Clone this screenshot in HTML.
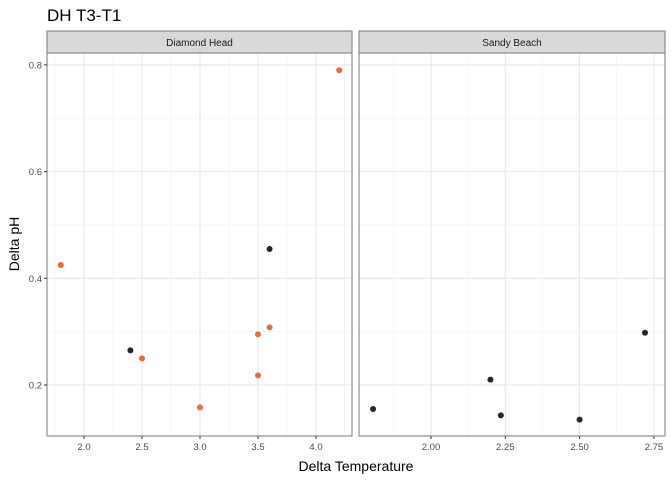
<!DOCTYPE html>
<html><head><meta charset="utf-8"><style>
body{margin:0;background:#fff;font-family:"Liberation Sans",Arial,sans-serif}
</style></head><body>
<svg id="c" width="672" height="480" xmlns="http://www.w3.org/2000/svg">
<text x="47" y="21" font-size="17" fill="#000">DH T3-T1</text>
<text x="356" y="471" font-size="14" text-anchor="middle" fill="#000">Delta Temperature</text>
<text transform="translate(19,244) rotate(-90)" font-size="14" text-anchor="middle" fill="#000">Delta pH</text>
</svg>
<script>
const yTicks=[0.2,0.4,0.6,0.8];
const p1Ticks=[2.0,2.5,3.0,3.5,4.0];
const p2Ticks=[2.00,2.25,2.50,2.75];
const dhOrangeX=[1.8,2.5,3.0,3.5,3.5,3.6,4.2];
const dhOrangeY=[0.425,0.25,0.158,0.295,0.218,0.308,0.79];
const dhBlackX=[2.4,3.6];
const dhBlackY=[0.265,0.455];
const sbX=[1.805,2.2,2.235,2.50,2.72];
const sbY=[0.155,0.21,0.143,0.135,0.298];

const svg=document.getElementById('c');
const NS='http://www.w3.org/2000/svg';
function mk(t,a,p){const e=document.createElementNS(NS,t);for(const k in a)e.setAttribute(k,a[k]);(p||svg).appendChild(e);return e;}
const pTop=53,pBot=436;
const yS=v=>385-(v-0.2)/0.2*106.7;
const panels=[
 {x0:47,x1:352,name:'Diamond Head',ticks:p1Ticks,fx:v=>84+(v-2.0)/0.5*58,dec:1,key:'diamond-head'},
 {x0:359,x1:665,name:'Sandy Beach',ticks:p2Ticks,fx:v=>431+(v-2.0)/0.25*74.3,dec:2,key:'sandy-beach'}];
panels.forEach(p=>{
 const g=mk('g',{});
 
 
 for(let i=0;i<yTicks.length+1;i++){const v=0.1+i*0.2;const y=yS(v);if(y>pTop&&y<pBot){const l=mk('line',{x1:p.x0,x2:p.x1,y1:y,y2:y,stroke:'#f0f0f0','stroke-width':0.6},g);}}
 for(let i=0;i<=p.ticks.length;i++){const v=p.ticks[0]+(i-0.5)*(p.ticks[1]-p.ticks[0]);const x=p.fx(v);if(x>p.x0&&x<p.x1){const l=mk('line',{x1:x,x2:x,y1:pTop,y2:pBot,stroke:'#f0f0f0','stroke-width':0.6},g);}}
 yTicks.forEach(v=>{const y=yS(v);const l=mk('line',{x1:p.x0,x2:p.x1,y1:y,y2:y,stroke:'#e6e6e6','stroke-width':1.1},g);});
 p.ticks.forEach(v=>{const x=p.fx(v);const l=mk('line',{x1:x,x2:x,y1:pTop,y2:pBot,stroke:'#e6e6e6','stroke-width':1.1},g);
  const tk=mk('line',{x1:x,x2:x,y1:pBot,y2:pBot+3,stroke:'#333'},g);
  const t=mk('text',{x:x,y:pBot+14,'font-size':9.5,'text-anchor':'middle',fill:'#4d4d4d'},g);t.textContent=v.toFixed(p.dec);});
 const r=mk('rect',{x:p.x0,y:pTop,width:p.x1-p.x0,height:pBot-pTop,fill:'none',stroke:'#777','stroke-width':1},g);
 const s=mk('rect',{x:p.x0,y:31,width:p.x1-p.x0,height:22,fill:'#d9d9d9',stroke:'#777','stroke-width':1},g);
 const st=mk('text',{x:(p.x0+p.x1)/2,y:46,'font-size':10,'text-anchor':'middle',fill:'#1a1a1a'},g);st.textContent=p.name;
});
yTicks.forEach(v=>{const y=yS(v);const tk=mk('line',{x1:44,x2:47,y1:y,y2:y,stroke:'#333'});
 const t=mk('text',{x:42,y:y+3.5,'font-size':9.5,'text-anchor':'end',fill:'#4d4d4d'});t.textContent=v.toFixed(1);});
function pts(xs,ys,fx,col,name){xs.forEach((x,i)=>{const c=mk('circle',{cx:fx(x),cy:yS(ys[i]),r:3,fill:col});});}
pts(dhOrangeX,dhOrangeY,panels[0].fx,'#ee6a33','point-orange');
pts(dhBlackX,dhBlackY,panels[0].fx,'#262626','point-black');
pts(sbX,sbY,panels[1].fx,'#262626','point-black');
</script>
</body></html>
